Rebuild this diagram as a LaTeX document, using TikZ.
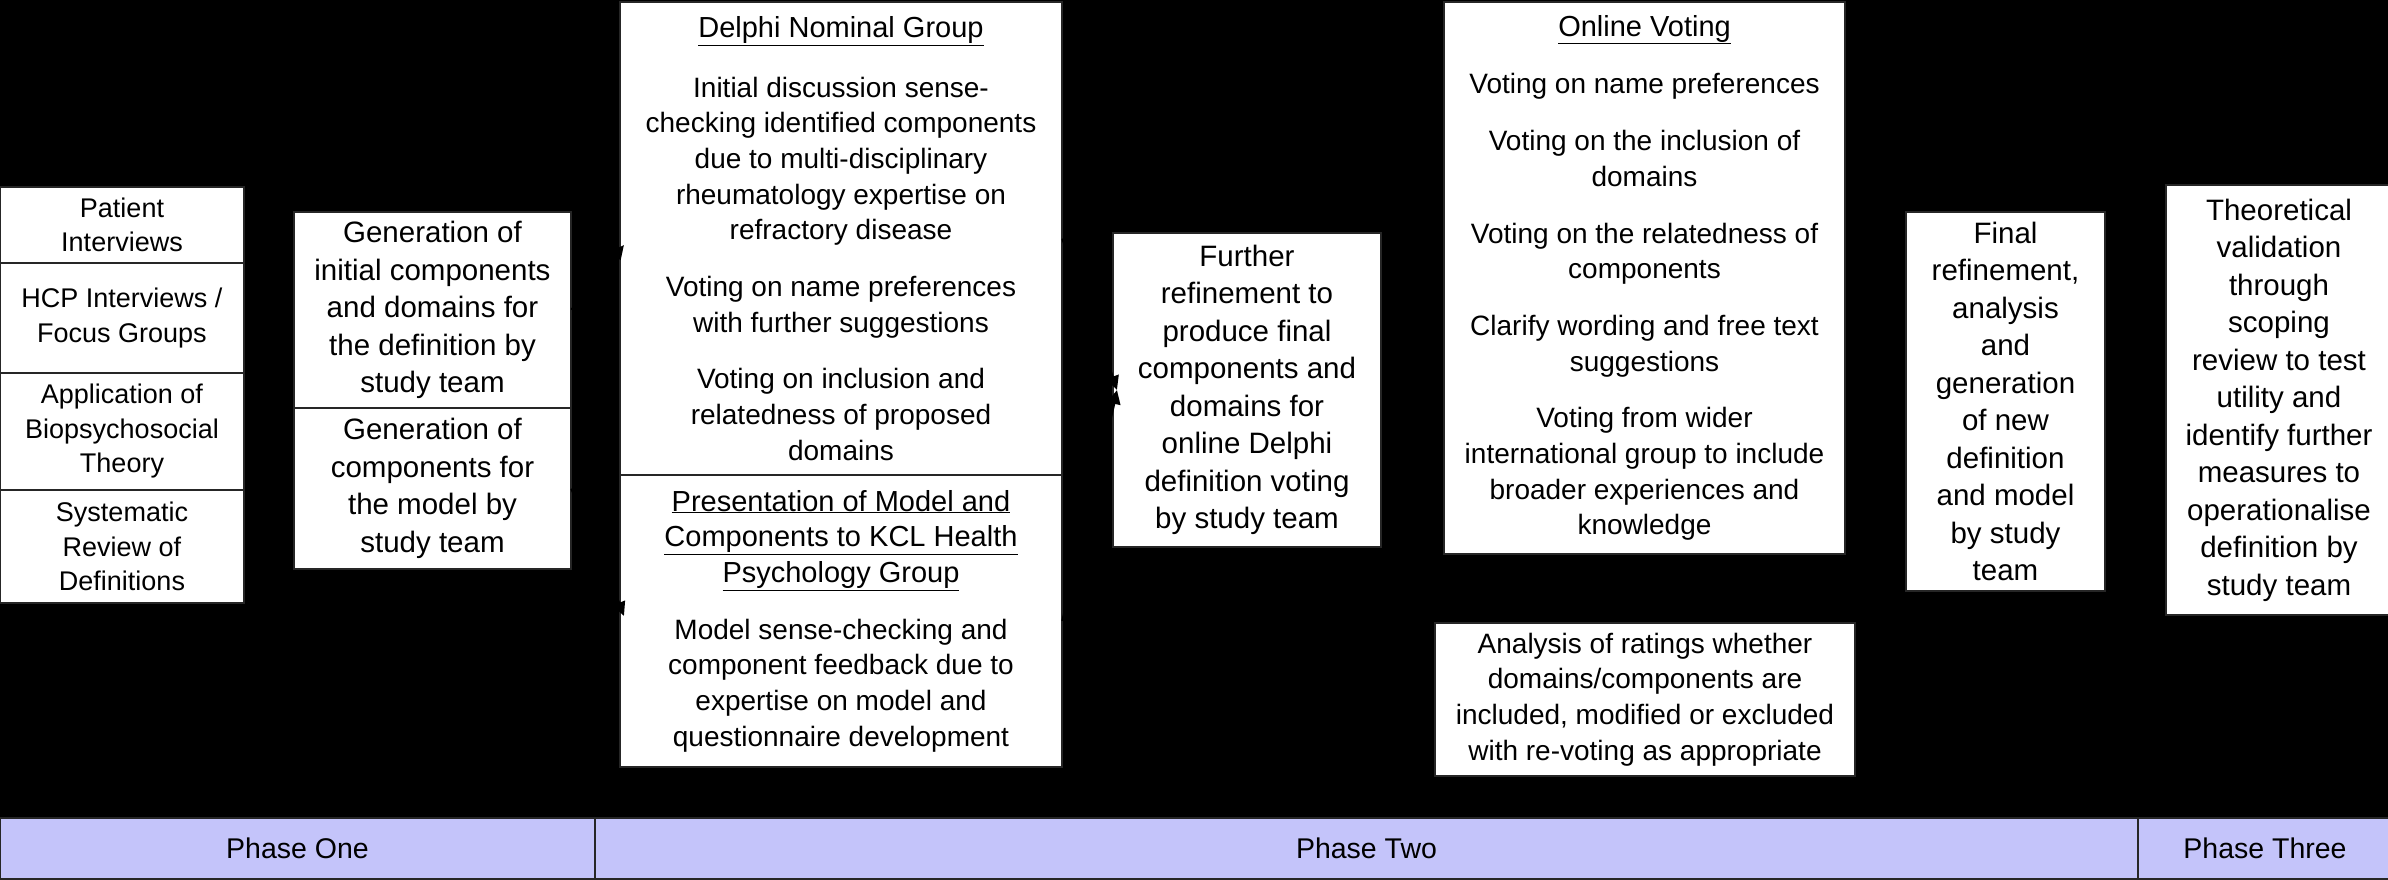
\documentclass[tikz,border=0pt]{standalone}
\usepackage{fontspec}
\setmainfont{Liberation Sans}
\usetikzlibrary{arrows.meta}
\definecolor{phaseblue}{RGB}{196,196,250}
\newcommand{\boxtitle}[1]{{\fontsize{29}{36}\selectfont\underline{#1}}}

\begin{document}
\begin{tikzpicture}[x=1pt, y=-1pt,
    stage/.style={draw=black!85, line width=1.5pt, fill=white, align=center, inner sep=0pt, font=\fontsize{29.5}{37.5}\selectfont},
    source/.style={stage, font=\fontsize{27}{34.5}\selectfont},
    listing/.style={stage, font=\fontsize{28}{35.7}\selectfont},
    phase/.style={draw=black!85, line width=1.5pt, fill=phaseblue, inner sep=0pt, minimum height=61pt, font=\fontsize{28.5}{32}\selectfont},
    flow/.style={-{Triangle[length=14pt,width=13pt]}, line width=3pt, black}]
    \useasboundingbox (0,0) rectangle (2388,880);
    \fill[black] (0,0) rectangle (2388,880);

    % Fonti della fase uno
    \node[source, minimum width=244pt, minimum height=76pt] (src1) at (122,225) {Patient\\Interviews};
    \node[source, minimum width=244pt, minimum height=110pt] (src2) at (122,318) {HCP Interviews /\\Focus Groups};
    \node[source, minimum width=244pt, minimum height=117pt] (src3) at (122,431.5) {Application of\\Biopsychosocial\\Theory};
    \node[source, minimum width=244pt, minimum height=113pt] (src4) at (122,546.5) {Systematic\\Review of\\Definitions};

    % Generazione da parte del gruppo di studio
    \node[stage, minimum width=277pt, minimum height=196pt] (gen1) at (432.5,310) {Generation of\\initial components\\and domains for\\the definition by\\study team};
    \node[stage, minimum width=277pt, minimum height=161pt] (gen2) at (432.5,488.5) {Generation of\\components for\\the model by\\study team};

    % Fase due
    \node[listing, minimum width=442pt, minimum height=473pt] (delphi) at (841,238.5) {\boxtitle{Delphi Nominal Group}\\[24pt]
        Initial discussion sense-\\checking identified components\\due to multi-disciplinary\\rheumatology expertise on\\refractory disease\\[21pt]
        Voting on name preferences\\with further suggestions\\[21pt]
        Voting on inclusion and\\relatedness of proposed\\domains};
    \node[listing, minimum width=442pt, minimum height=292pt] (kcl) at (841,621) {\boxtitle{Presentation of Model and}\\\boxtitle{Components to KCL Health}\\\boxtitle{Psychology Group}\\[21pt]
        Model sense-checking and\\component feedback due to\\expertise on model and\\questionnaire development};
    \node[stage, minimum width=268pt, minimum height=314pt] (further) at (1247,390) {Further\\refinement to\\produce final\\components and\\domains for\\online Delphi\\definition voting\\by study team};
    \node[listing, minimum width=401pt, minimum height=552pt] (online) at (1644.5,278) {\boxtitle{Online Voting}\\[22pt]
        Voting on name preferences\\[21pt]
        Voting on the inclusion of\\domains\\[21pt]
        Voting on the relatedness of\\components\\[21pt]
        Clarify wording and free text\\suggestions\\[21pt]
        Voting from wider\\international group to include\\broader experiences and\\knowledge};
    \node[listing, minimum width=420pt, minimum height=153pt] (analysis) at (1645,699.5) {Analysis of ratings whether\\domains/components are\\included, modified or excluded\\with re-voting as appropriate};
    \node[stage, minimum width=199pt, minimum height=379pt] (final) at (2005.5,401.5) {Final\\refinement,\\analysis\\and\\generation\\of new\\definition\\and model\\by study\\team};

    % Fase tre
    \node[stage, minimum width=226pt, minimum height=430pt] (theory) at (2279,400) {Theoretical\\validation\\through\\scoping\\review to test\\utility and\\identify further\\measures to\\operationalise\\definition by\\study team};

    % Frecce
    \coordinate (delin) at (624,245);
    \coordinate (kclin) at (624,616);
    \coordinate (furin) at (1117,390);
    \draw[flow] (gen1.east) -- (delin);
    \draw[flow] (gen2.east) -- (kclin);
    \draw[flow] (delphi.east) -- (furin);
    \draw[flow] (kcl.east) -- (furin);

    % Barra delle fasi
    \node[phase, minimum width=595pt] (ph1) at (297.5,848.5) {Phase One};
    \node[phase, minimum width=1543pt] (ph2) at (1366.5,848.5) {Phase Two};
    \node[phase, minimum width=254pt] (ph3) at (2265,848.5) {Phase Three};
\end{tikzpicture}
\end{document}
